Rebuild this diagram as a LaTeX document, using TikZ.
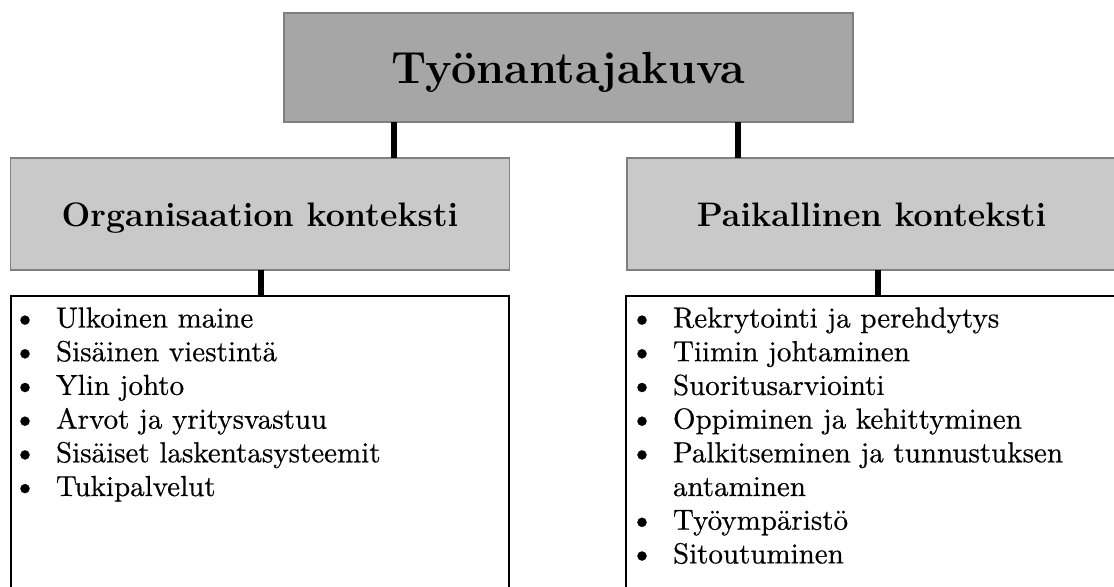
\documentclass[tikz,border=0pt]{standalone}
\usepackage{fontspec}
\newfontfamily\bodyfont{lmroman10-regular.otf}[FakeBold=0.5]
\definecolor{topfill}{HTML}{A6A6A6}
\definecolor{midfill}{HTML}{C9C9C9}
\definecolor{edgegray}{HTML}{7F7F7F}
\newcommand{\bul}{\makebox[0pt]{\fontsize{24pt}{24pt}\selectfont\textbullet}\hspace{23.25pt}}
\begin{document}
\begin{tikzpicture}[x=0.75pt,y=-0.75pt,
  every node/.style={inner sep=0pt, outer sep=0pt},
  topbox/.style={draw=edgegray, line width=1pt, fill=topfill,
    minimum width=426.75pt, minimum height=81.75pt,
    font=\fontsize{33.75pt}{40pt}\selectfont\bfseries, text height=23.25pt, text depth=0pt},
  midbox/.style={draw=edgegray, line width=1pt, fill=midfill,
    minimum height=84pt,
    font=\fontsize{25.5pt}{30pt}\selectfont\bfseries, text height=18pt, text depth=0pt},
  listbox/.style={draw=black, line width=1pt, fill=white, minimum height=228pt},
  conn/.style={draw=black, line width=4.5pt},
  item/.style={anchor=base west, font=\bodyfont\fontsize{21.75pt}{25pt}\selectfont}
]
\useasboundingbox (0,0) rectangle (1114,586);
\clip (0,0) rectangle (1114,586);

% top
\node[topbox] (top) at (568.5,67.5) {Työnantajakuva};
% middle
\node[midbox, minimum width=374.25pt] (midL) at (260,214) {Organisaation konteksti};
\node[midbox, minimum width=366.75pt] (midR) at (871.5,214) {Paikallinen konteksti};
% list boxes
\node[listbox, minimum width=373.5pt] (listL) at (260,448) {};
\node[listbox, minimum width=371.25pt] (listR) at (873.5,448) {};

% connectors
\coordinate (c1) at (394,0);
\coordinate (c2) at (738,0);
\coordinate (c3) at (261,0);
\coordinate (c4) at (878,0);
\draw[conn] (top.south -| c1) -- (midL.north -| c1);
\draw[conn] (top.south -| c2) -- (midR.north -| c2);
\draw[conn] (midL.south -| c3) -- (listL.north -| c3);
\draw[conn] (midR.south -| c4) -- (listR.north -| c4);

% left list
\foreach \t [count=\i] in {Ulkoinen maine, Sisäinen viestintä, Ylin johto,
  Arvot ja yritysvastuu, Sisäiset laskentasysteemit, Tukipalvelut}
  \node[item] (L\i) at (25, {327.5+(\i-1)*33.7}) {\bul\t};

% right list
\foreach \t [count=\i] in {Rekrytointi ja perehdytys, Tiimin johtaminen, Suoritusarviointi,
  Oppiminen ja kehittyminen, Palkitseminen ja tunnustuksen}
  \node[item] (R\i) at (642, {327.5+(\i-1)*33.7}) {\bul\t};
\node[item] (R6) at (673, {327.5+5*33.7}) {antaminen};
\node[item] (R7) at (642, {327.5+6*33.7}) {\bul Työympäristö};
\node[item] (R8) at (642, {327.5+7*33.7}) {\bul Sitoutuminen};
\end{tikzpicture}
\end{document}
